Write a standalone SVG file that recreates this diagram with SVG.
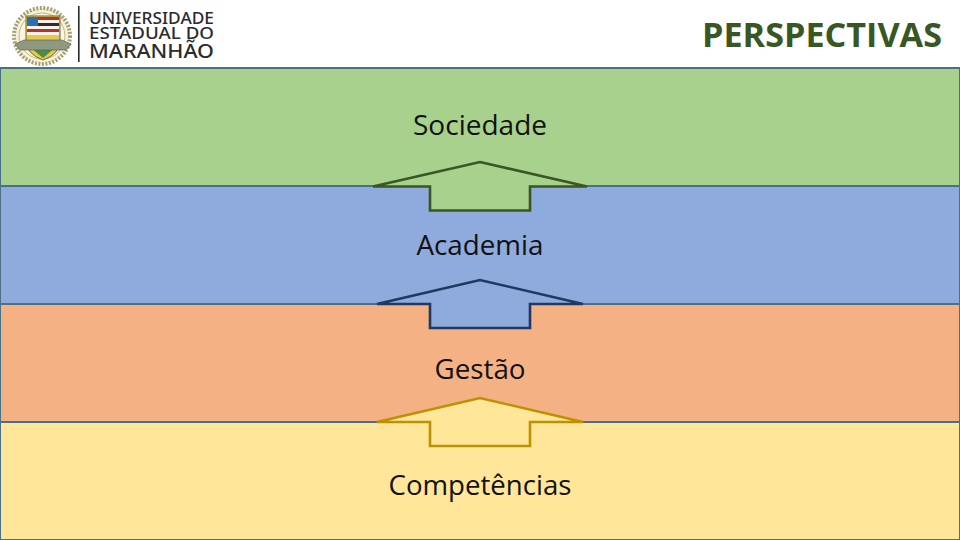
<svg xmlns="http://www.w3.org/2000/svg" width="960" height="540" viewBox="0 0 960 540">
<style>
.band{stroke:#4a7088;stroke-width:2}
.arrow{stroke-width:2.600;stroke-linejoin:miter}
.label{font-family:"Open Sans","Noto Sans",sans-serif;font-size:28px;fill:#111;text-anchor:middle}
.logo{font-family:"Noto Sans","Open Sans",sans-serif;fill:#2b2b2b;font-weight:500}
</style>
<rect width="960" height="540" fill="#fff"/>
<g id="logo">
<circle cx="42" cy="36" r="28" fill="#f5f1dc" stroke="#a5a070" stroke-width="4" stroke-dasharray="2 1.500"/>
<circle cx="42" cy="36" r="23" fill="#f8f5e6" stroke="#b5a95a" stroke-width=".8"/>
<path d="M26 16H60V40Q60 54 43 60Q26 54 26 40Z" fill="#e8c84a" stroke="#6d6a2a" stroke-width="1"/>
<rect x="27" y="17" width="11" height="9" fill="#2d6fb0"/>
<rect x="38" y="17" width="21" height="3" fill="#b5332a"/>
<rect x="38" y="20" width="21" height="3" fill="#f6f2ea"/>
<rect x="38" y="23" width="21" height="3" fill="#2c2c2c"/>
<rect x="27" y="26" width="32" height="3" fill="#f6f2ea"/>
<rect x="27" y="29" width="32" height="3" fill="#b5332a"/>
<rect x="27" y="32" width="32" height="3" fill="#f6f2ea"/>
<path d="M30 47H56L43 58Z" fill="#4c8a4a"/>
<path d="M15 44L24 40H62L71 44L66 50H20Z" fill="#8d9a80" stroke="#555" stroke-width=".6"/>
<rect x="78" y="6" width="1.600" height="56" fill="#2b2b2b"/>
<text class="logo" x="89" y="23.500" font-size="15.500" textLength="125" lengthAdjust="spacingAndGlyphs">UNIVERSIDADE</text>
<text class="logo" x="89" y="39" font-size="15.500" textLength="125" lengthAdjust="spacingAndGlyphs">ESTADUAL DO</text>
<text class="logo" x="89" y="58" font-size="19" textLength="125" lengthAdjust="spacingAndGlyphs">MARANHÃO</text>
</g>
<text id="title" x="822" y="46.500" font-family="'Open Sans','Noto Sans',sans-serif" font-size="34" font-weight="700" fill="#385723" text-anchor="middle" textLength="240" lengthAdjust="spacingAndGlyphs">PERSPECTIVAS</text>
<g id="sociedade">
<rect class="band" x="0" y="68" width="960" height="118" fill="#a9d18e"/>
<text class="label" x="480" y="134.500" textLength="134" lengthAdjust="spacingAndGlyphs">Sociedade</text>
</g>
<g id="academia">
<rect class="band" x="0" y="186" width="960" height="118" fill="#8faadc"/>
<text class="label" x="480" y="254.500" textLength="127" lengthAdjust="spacingAndGlyphs">Academia</text>
</g>
<g id="gestao">
<rect class="band" x="0" y="304" width="960" height="118" fill="#f4b183"/>
<text class="label" x="480" y="378.500" textLength="91" lengthAdjust="spacingAndGlyphs">Gestão</text>
</g>
<g id="competencias">
<rect class="band" x="0" y="422" width="960" height="118" fill="#ffe699"/>
<text class="label" x="480" y="494.500" textLength="183" lengthAdjust="spacingAndGlyphs">Competências</text>
</g>
<g id="connectors">
<path class="arrow" d="M373 186.500L480 162L587 186.500H530V210.500H430V186.500Z" fill="#a9d18e" stroke="#385723" stroke-width="3"/>
<path class="arrow" d="M377 304L480 280L583 304H530V328H430V304Z" fill="#8faadc" stroke="#203864"/>
<path class="arrow" d="M377 422L480 398L583 422H530V446H430V422Z" fill="#ffe699" stroke="#bf9000"/>
</g>
</svg>
